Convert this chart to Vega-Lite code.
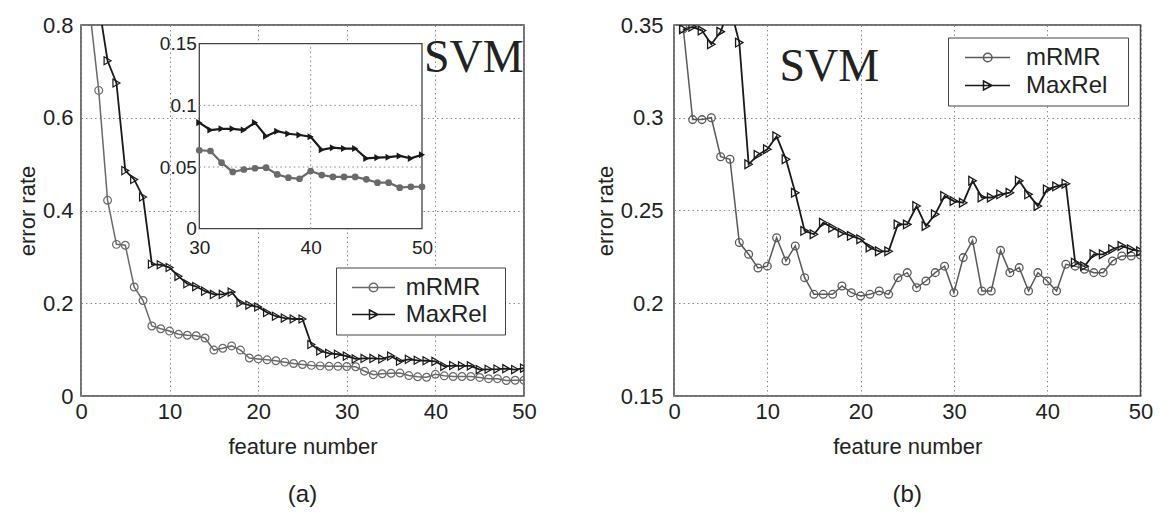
{
  "$schema": "https://vega.github.io/schema/vega-lite/v6.json",
  "background": "white",
  "padding": {"left": 15, "top": 13, "right": 0, "bottom": 0},
  "config": {
    "view": {"stroke": "#444", "strokeWidth": 1.5},
    "font": "Liberation Sans",
    "axis": {"domain": false, "ticks": false, "grid": true, "gridColor": "#8a8a8a", "gridDash": [1.5, 3], "gridWidth": 1,
      "labelFont": "Liberation Sans", "labelFontSize": 22, "labelColor": "#222",
      "titleFont": "Liberation Sans", "titleFontSize": 22, "titleFontWeight": "normal", "titleColor": "#222",
      "labelFlush": false, "labelOverlap": false},
    "title": {"font": "Liberation Sans", "fontSize": 24, "fontWeight": "normal", "color": "#222"}
  },
  "datasets": {
    "a": [
      {"method":"mRMR","n":1,"err":0.83},{"method":"mRMR","n":2,"err":0.659},{"method":"mRMR","n":3,"err":0.422},{"method":"mRMR","n":4,"err":0.327},{"method":"mRMR","n":5,"err":0.325},
      {"method":"mRMR","n":6,"err":0.235},{"method":"mRMR","n":7,"err":0.206},{"method":"mRMR","n":8,"err":0.151},{"method":"mRMR","n":9,"err":0.145},{"method":"mRMR","n":10,"err":0.140},
      {"method":"mRMR","n":11,"err":0.133},{"method":"mRMR","n":12,"err":0.131},{"method":"mRMR","n":13,"err":0.130},{"method":"mRMR","n":14,"err":0.125},{"method":"mRMR","n":15,"err":0.099},
      {"method":"mRMR","n":16,"err":0.103},{"method":"mRMR","n":17,"err":0.108},{"method":"mRMR","n":18,"err":0.099},{"method":"mRMR","n":19,"err":0.082},{"method":"mRMR","n":20,"err":0.080},
      {"method":"mRMR","n":21,"err":0.078},{"method":"mRMR","n":22,"err":0.076},{"method":"mRMR","n":23,"err":0.073},{"method":"mRMR","n":24,"err":0.070},{"method":"mRMR","n":25,"err":0.068},
      {"method":"mRMR","n":26,"err":0.066},{"method":"mRMR","n":27,"err":0.065},{"method":"mRMR","n":28,"err":0.064},{"method":"mRMR","n":29,"err":0.064},{"method":"mRMR","n":30,"err":0.0636},
      {"method":"mRMR","n":31,"err":0.063},{"method":"mRMR","n":32,"err":0.0535},{"method":"mRMR","n":33,"err":0.046},{"method":"mRMR","n":34,"err":0.048},{"method":"mRMR","n":35,"err":0.049},
      {"method":"mRMR","n":36,"err":0.0495},{"method":"mRMR","n":37,"err":0.044},{"method":"mRMR","n":38,"err":0.0414},{"method":"mRMR","n":39,"err":0.0405},{"method":"mRMR","n":40,"err":0.0468},
      {"method":"mRMR","n":41,"err":0.0435},{"method":"mRMR","n":42,"err":0.042},{"method":"mRMR","n":43,"err":0.042},{"method":"mRMR","n":44,"err":0.042},{"method":"mRMR","n":45,"err":0.040},
      {"method":"mRMR","n":46,"err":0.0373},{"method":"mRMR","n":47,"err":0.0373},{"method":"mRMR","n":48,"err":0.0333},{"method":"mRMR","n":49,"err":0.034},{"method":"mRMR","n":50,"err":0.034},
      {"method":"MaxRel","n":1,"err":0.95},{"method":"MaxRel","n":2,"err":0.845},{"method":"MaxRel","n":3,"err":0.723},{"method":"MaxRel","n":4,"err":0.675},{"method":"MaxRel","n":5,"err":0.486},
      {"method":"MaxRel","n":6,"err":0.467},{"method":"MaxRel","n":7,"err":0.429},{"method":"MaxRel","n":8,"err":0.284},{"method":"MaxRel","n":9,"err":0.283},{"method":"MaxRel","n":10,"err":0.277},
      {"method":"MaxRel","n":11,"err":0.258},{"method":"MaxRel","n":12,"err":0.242},{"method":"MaxRel","n":13,"err":0.236},{"method":"MaxRel","n":14,"err":0.226},{"method":"MaxRel","n":15,"err":0.219},
      {"method":"MaxRel","n":16,"err":0.219},{"method":"MaxRel","n":17,"err":0.224},{"method":"MaxRel","n":18,"err":0.201},{"method":"MaxRel","n":19,"err":0.196},{"method":"MaxRel","n":20,"err":0.192},
      {"method":"MaxRel","n":21,"err":0.180},{"method":"MaxRel","n":22,"err":0.172},{"method":"MaxRel","n":23,"err":0.168},{"method":"MaxRel","n":24,"err":0.166},{"method":"MaxRel","n":25,"err":0.166},
      {"method":"MaxRel","n":26,"err":0.111},{"method":"MaxRel","n":27,"err":0.097},{"method":"MaxRel","n":28,"err":0.092},{"method":"MaxRel","n":29,"err":0.090},{"method":"MaxRel","n":30,"err":0.086},
      {"method":"MaxRel","n":31,"err":0.080},{"method":"MaxRel","n":32,"err":0.081},{"method":"MaxRel","n":33,"err":0.081},{"method":"MaxRel","n":34,"err":0.080},{"method":"MaxRel","n":35,"err":0.086},
      {"method":"MaxRel","n":36,"err":0.075},{"method":"MaxRel","n":37,"err":0.079},{"method":"MaxRel","n":38,"err":0.077},{"method":"MaxRel","n":39,"err":0.076},{"method":"MaxRel","n":40,"err":0.0746},
      {"method":"MaxRel","n":41,"err":0.064},{"method":"MaxRel","n":42,"err":0.0657},{"method":"MaxRel","n":43,"err":0.065},{"method":"MaxRel","n":44,"err":0.065},{"method":"MaxRel","n":45,"err":0.057},
      {"method":"MaxRel","n":46,"err":0.0576},{"method":"MaxRel","n":47,"err":0.058},{"method":"MaxRel","n":48,"err":0.059},{"method":"MaxRel","n":49,"err":0.057},{"method":"MaxRel","n":50,"err":0.060}
    ],
    "b": [
      {"method":"mRMR","n":1,"err":0.348},{"method":"mRMR","n":2,"err":0.299},{"method":"mRMR","n":3,"err":0.299},{"method":"mRMR","n":4,"err":0.300},{"method":"mRMR","n":5,"err":0.279},
      {"method":"mRMR","n":6,"err":0.2776},{"method":"mRMR","n":7,"err":0.2327},{"method":"mRMR","n":8,"err":0.2264},{"method":"mRMR","n":9,"err":0.219},{"method":"mRMR","n":10,"err":0.220},
      {"method":"mRMR","n":11,"err":0.2353},{"method":"mRMR","n":12,"err":0.2228},{"method":"mRMR","n":13,"err":0.2309},{"method":"mRMR","n":14,"err":0.2138},{"method":"mRMR","n":15,"err":0.2048},
      {"method":"mRMR","n":16,"err":0.2048},{"method":"mRMR","n":17,"err":0.2048},{"method":"mRMR","n":18,"err":0.2093},{"method":"mRMR","n":19,"err":0.2057},{"method":"mRMR","n":20,"err":0.2039},
      {"method":"mRMR","n":21,"err":0.2048},{"method":"mRMR","n":22,"err":0.2066},{"method":"mRMR","n":23,"err":0.2048},{"method":"mRMR","n":24,"err":0.2138},{"method":"mRMR","n":25,"err":0.2165},
      {"method":"mRMR","n":26,"err":0.2084},{"method":"mRMR","n":27,"err":0.212},{"method":"mRMR","n":28,"err":0.2165},{"method":"mRMR","n":29,"err":0.22},{"method":"mRMR","n":30,"err":0.2057},
      {"method":"mRMR","n":31,"err":0.2246},{"method":"mRMR","n":32,"err":0.2339},{"method":"mRMR","n":33,"err":0.2066},{"method":"mRMR","n":34,"err":0.2066},{"method":"mRMR","n":35,"err":0.2285},
      {"method":"mRMR","n":36,"err":0.2165},{"method":"mRMR","n":37,"err":0.2192},{"method":"mRMR","n":38,"err":0.2066},{"method":"mRMR","n":39,"err":0.2165},{"method":"mRMR","n":40,"err":0.212},
      {"method":"mRMR","n":41,"err":0.2066},{"method":"mRMR","n":42,"err":0.221},{"method":"mRMR","n":43,"err":0.220},{"method":"mRMR","n":44,"err":0.2183},{"method":"mRMR","n":45,"err":0.2165},
      {"method":"mRMR","n":46,"err":0.2165},{"method":"mRMR","n":47,"err":0.2228},{"method":"mRMR","n":48,"err":0.2255},{"method":"mRMR","n":49,"err":0.2255},{"method":"mRMR","n":50,"err":0.226},
      {"method":"MaxRel","n":1,"err":0.3477},{"method":"MaxRel","n":2,"err":0.349},{"method":"MaxRel","n":3,"err":0.347},{"method":"MaxRel","n":4,"err":0.3396},{"method":"MaxRel","n":5,"err":0.3464},
      {"method":"MaxRel","n":6,"err":0.36},{"method":"MaxRel","n":7,"err":0.3405},{"method":"MaxRel","n":8,"err":0.2749},{"method":"MaxRel","n":9,"err":0.280},{"method":"MaxRel","n":10,"err":0.283},
      {"method":"MaxRel","n":11,"err":0.290},{"method":"MaxRel","n":12,"err":0.2776},{"method":"MaxRel","n":13,"err":0.2596},{"method":"MaxRel","n":14,"err":0.239},{"method":"MaxRel","n":15,"err":0.2372},
      {"method":"MaxRel","n":16,"err":0.2434},{"method":"MaxRel","n":17,"err":0.2407},{"method":"MaxRel","n":18,"err":0.238},{"method":"MaxRel","n":19,"err":0.2363},{"method":"MaxRel","n":20,"err":0.2345},
      {"method":"MaxRel","n":21,"err":0.230},{"method":"MaxRel","n":22,"err":0.228},{"method":"MaxRel","n":23,"err":0.228},{"method":"MaxRel","n":24,"err":0.2425},{"method":"MaxRel","n":25,"err":0.2425},
      {"method":"MaxRel","n":26,"err":0.2524},{"method":"MaxRel","n":27,"err":0.2416},{"method":"MaxRel","n":28,"err":0.248},{"method":"MaxRel","n":29,"err":0.2578},{"method":"MaxRel","n":30,"err":0.2551},
      {"method":"MaxRel","n":31,"err":0.2542},{"method":"MaxRel","n":32,"err":0.266},{"method":"MaxRel","n":33,"err":0.257},{"method":"MaxRel","n":34,"err":0.257},{"method":"MaxRel","n":35,"err":0.2587},
      {"method":"MaxRel","n":36,"err":0.2596},{"method":"MaxRel","n":37,"err":0.266},{"method":"MaxRel","n":38,"err":0.2587},{"method":"MaxRel","n":39,"err":0.2524},{"method":"MaxRel","n":40,"err":0.2614},
      {"method":"MaxRel","n":41,"err":0.263},{"method":"MaxRel","n":42,"err":0.2644},{"method":"MaxRel","n":43,"err":0.2219},{"method":"MaxRel","n":44,"err":0.220},{"method":"MaxRel","n":45,"err":0.2264},
      {"method":"MaxRel","n":46,"err":0.2264},{"method":"MaxRel","n":47,"err":0.2291},{"method":"MaxRel","n":48,"err":0.2309},{"method":"MaxRel","n":49,"err":0.2291},{"method":"MaxRel","n":50,"err":0.228}
    ]
  },
  "spacing": 56,
  "resolve": {"scale": {"color": "independent", "shape": "independent"}, "legend": {"shape": "independent", "color": "independent"}},
  "hconcat": [
    {
      "width": 443, "height": 371,
      "title": {"text": "(a)", "orient": "bottom", "offset": 26, "anchor": "middle"},
      "resolve": {"scale": {"x": "independent", "y": "independent"}, "axis": {"x": "independent", "y": "independent"}},
      "layer": [
        {
          "data": {"name": "a"},
          "layer": [
            {"transform": [{"filter": "datum.method === 'mRMR'"}],
             "mark": {"type": "line", "clip": true, "strokeWidth": 1.5, "color": "#6a6a6a"},
             "encoding": {
               "x": {"field": "n", "type": "quantitative", "scale": {"domain": [0, 50], "nice": false, "zero": false},
                 "axis": {"values": [0, 10, 20, 30, 40, 50], "title": "feature number", "labelPadding": 5, "titlePadding": 14}},
               "y": {"field": "err", "type": "quantitative", "scale": {"domain": [0, 0.8], "nice": false, "zero": false},
                 "axis": {"values": [0, 0.2, 0.4, 0.6, 0.8], "format": ".2~f", "title": "error rate", "labelPadding": 8, "titlePadding": 3}}
             }},
            {"transform": [{"filter": "datum.method === 'MaxRel'"}],
             "mark": {"type": "line", "clip": true, "strokeWidth": 1.8, "color": "#1a1a1a"},
             "encoding": {"x": {"field": "n", "type": "quantitative"}, "y": {"field": "err", "type": "quantitative"}}},
            {"transform": [{"filter": "datum.method === 'mRMR'"}],
             "mark": {"type": "point", "clip": true, "shape": "circle", "filled": false, "size": 60, "strokeWidth": 1.2, "color": "#6a6a6a", "opacity": 1},
             "encoding": {"x": {"field": "n", "type": "quantitative"}, "y": {"field": "err", "type": "quantitative"}}},
            {"transform": [{"filter": "datum.method === 'MaxRel'"}],
             "mark": {"type": "point", "clip": true, "shape": "triangle-right", "filled": false, "size": 65, "strokeWidth": 1.2, "color": "#1a1a1a", "opacity": 1},
             "encoding": {"x": {"field": "n", "type": "quantitative"}, "y": {"field": "err", "type": "quantitative"}}},
            {"transform": [{"filter": "false"}],
             "mark": {"type": "point", "filled": false, "strokeWidth": 1.5, "opacity": 1},
             "encoding": {
               "x": {"field": "n", "type": "quantitative"}, "y": {"field": "err", "type": "quantitative"},
               "color": {"field": "method", "type": "nominal", "scale": {"domain": ["mRMR", "MaxRel"], "range": ["#6a6a6a", "#1a1a1a"]},
                 "legend": {"orient": "none", "legendX": 255, "legendY": 242.5, "title": null, "direction": "vertical",
                   "labelFont": "Liberation Sans", "labelFontSize": 24, "labelColor": "#222", "labelOffset": 37.7,
                   "symbolSize": 400, "rowPadding": 3, "padding": 8, "strokeColor": "#444", "fillColor": "white",
                   "symbolStrokeWidth": 1.5, "symbolFillColor": "transparent"}},
               "shape": {"field": "method", "type": "nominal",
                 "scale": {"domain": ["mRMR", "MaxRel"], "range": [
                   "M-1,0M13.8,0M-0.4,0L3.9,0M2.18,0C2.18,0.2375,1.9875,0.43,1.75,0.43C1.5125,0.43,1.32,0.2375,1.32,0C1.32,-0.2375,1.5125,-0.43,1.75,-0.43C1.9875,-0.43,2.18,-0.2375,2.18,0Z",
                   "M-1,0M13.8,0M-0.4,0L3.9,0M1.35,-0.45L2.2,0L1.35,0.45Z"]},
                 "legend": {"orient": "none", "legendX": 255, "legendY": 242.5, "title": null, "direction": "vertical",
                   "labelFont": "Liberation Sans", "labelFontSize": 24, "labelColor": "#222", "labelOffset": 37.7,
                   "symbolSize": 400, "rowPadding": 3, "padding": 8, "strokeColor": "#444", "fillColor": "white",
                   "symbolStrokeWidth": 1.5, "symbolFillColor": "transparent"}}
             }},
            {"data": {"values": [{"label": "SVM"}]},
             "mark": {"type": "text", "font": "Liberation Serif", "fontSize": 46, "align": "left", "baseline": "alphabetic", "color": "#222"},
             "encoding": {"x": {"datum": 38.7, "type": "quantitative"}, "y": {"datum": 0.698, "type": "quantitative"}, "text": {"field": "label"}}}
          ]
        },
        {
          "data": {"name": "a"},
          "layer": [
            {"data": {"values": [{"label": "inset"}]},
             "mark": {"type": "rect", "fill": "white", "stroke": "#444", "strokeWidth": 1.3},
             "encoding": {"x": {"datum": 30, "type": "quantitative"}, "x2": {"datum": 50}, "y": {"datum": 0, "type": "quantitative"}, "y2": {"datum": 0.15}}},
            {"data": {"values": [{"label": "grid"}]},
             "mark": {"type": "rule", "color": "#8a8a8a", "strokeWidth": 1, "strokeDash": [1.5, 3]},
             "encoding": {"x": {"datum": 40, "type": "quantitative"}, "y": {"datum": 0, "type": "quantitative"}, "y2": {"datum": 0.15}}},
            {"data": {"values": [{"label": "grid"}]},
             "mark": {"type": "rule", "color": "#8a8a8a", "strokeWidth": 1, "strokeDash": [1.5, 3]},
             "encoding": {"x": {"datum": 30, "type": "quantitative"}, "x2": {"datum": 50}, "y": {"datum": 0.05, "type": "quantitative"}}},
            {"data": {"values": [{"label": "grid"}]},
             "mark": {"type": "rule", "color": "#8a8a8a", "strokeWidth": 1, "strokeDash": [1.5, 3]},
             "encoding": {"x": {"datum": 30, "type": "quantitative"}, "x2": {"datum": 50}, "y": {"datum": 0.1, "type": "quantitative"}}},
            {"transform": [{"filter": "datum.n >= 30 && datum.method === 'mRMR'"}],
             "mark": {"type": "line", "strokeWidth": 2.2, "color": "#6a6a6a"},
             "encoding": {
               "x": {"field": "n", "type": "quantitative", "scale": {"domain": [30, 50], "range": [118.3, 341], "nice": false, "zero": false},
                 "axis": {"orient": "bottom", "offset": -167.3, "values": [30, 40, 50], "title": null, "grid": false, "labelFontSize": 19, "labelPadding": 10, "zindex": 1}},
               "y": {"field": "err", "type": "quantitative", "scale": {"domain": [0, 0.15], "range": [203.7, 18.7], "nice": false, "zero": false},
                 "axis": {"orient": "left", "offset": -118.3, "values": [0, 0.05, 0.1, 0.15], "format": ".2~f", "title": null, "grid": false, "labelFontSize": 19, "labelPadding": 3, "zindex": 1}}
             }},
            {"transform": [{"filter": "datum.n >= 30 && datum.method === 'MaxRel'"}],
             "mark": {"type": "line", "strokeWidth": 2.2, "color": "#1a1a1a"},
             "encoding": {"x": {"field": "n", "type": "quantitative"}, "y": {"field": "err", "type": "quantitative"}}},
            {"transform": [{"filter": "datum.n >= 30 && datum.method === 'mRMR'"}],
             "mark": {"type": "point", "shape": "circle", "filled": true, "size": 45, "color": "#6a6a6a", "opacity": 1},
             "encoding": {"x": {"field": "n", "type": "quantitative"}, "y": {"field": "err", "type": "quantitative"}}},
            {"transform": [{"filter": "datum.n >= 30 && datum.method === 'MaxRel'"}],
             "mark": {"type": "point", "shape": "triangle-right", "filled": true, "size": 50, "color": "#1a1a1a", "opacity": 1},
             "encoding": {"x": {"field": "n", "type": "quantitative"}, "y": {"field": "err", "type": "quantitative"}}}
          ]
        }
      ]
    },
    {
      "width": 466.5, "height": 371,
      "title": {"text": "(b)", "orient": "bottom", "offset": 26, "anchor": "middle"},
      "data": {"name": "b"},
      "layer": [
        {"transform": [{"filter": "datum.method === 'mRMR'"}],
         "mark": {"type": "line", "clip": true, "strokeWidth": 1.5, "color": "#5a5a5a"},
         "encoding": {
           "x": {"field": "n", "type": "quantitative", "scale": {"domain": [0, 50], "nice": false, "zero": false},
             "axis": {"values": [0, 10, 20, 30, 40, 50], "title": "feature number", "labelPadding": 5, "titlePadding": 14}},
           "y": {"field": "err", "type": "quantitative", "scale": {"domain": [0.15, 0.35], "nice": false, "zero": false},
             "axis": {"values": [0.15, 0.2, 0.25, 0.3, 0.35], "format": ".2~f", "title": "error rate", "labelPadding": 11, "titlePadding": 3}}
         }},
        {"transform": [{"filter": "datum.method === 'MaxRel'"}],
         "mark": {"type": "line", "clip": true, "strokeWidth": 1.8, "color": "#1a1a1a"},
         "encoding": {"x": {"field": "n", "type": "quantitative"}, "y": {"field": "err", "type": "quantitative"}}},
        {"transform": [{"filter": "datum.method === 'mRMR'"}],
         "mark": {"type": "point", "clip": true, "shape": "circle", "filled": false, "size": 60, "strokeWidth": 1.3, "color": "#5a5a5a", "opacity": 1},
         "encoding": {"x": {"field": "n", "type": "quantitative"}, "y": {"field": "err", "type": "quantitative"}}},
        {"transform": [{"filter": "datum.method === 'MaxRel'"}],
         "mark": {"type": "point", "clip": true, "shape": "triangle-right", "filled": false, "size": 75, "strokeWidth": 1.3, "color": "#1a1a1a", "opacity": 1},
         "encoding": {"x": {"field": "n", "type": "quantitative"}, "y": {"field": "err", "type": "quantitative"}}},
        {"transform": [{"filter": "false"}],
         "mark": {"type": "point", "filled": false, "strokeWidth": 1.5, "opacity": 1},
         "encoding": {
           "x": {"field": "n", "type": "quantitative"}, "y": {"field": "err", "type": "quantitative"},
           "color": {"field": "method", "type": "nominal", "scale": {"domain": ["mRMR", "MaxRel"], "range": ["#5a5a5a", "#1a1a1a"]},
             "legend": {"orient": "none", "legendX": 274, "legendY": 12.5, "title": null, "direction": "vertical",
               "labelFont": "Liberation Sans", "labelFontSize": 24, "labelColor": "#222", "labelOffset": 46,
               "symbolSize": 400, "rowPadding": 4, "padding": 8, "strokeColor": "#444", "fillColor": "white",
               "symbolStrokeWidth": 1.5, "symbolFillColor": "transparent"}},
           "shape": {"field": "method", "type": "nominal",
             "scale": {"domain": ["mRMR", "MaxRel"], "range": [
               "M-1,0M14.9,0M-0.3,0L4.2,0M2.4,0C2.4,0.2375,2.2075,0.43,1.97,0.43C1.7325,0.43,1.54,0.2375,1.54,0C1.54,-0.2375,1.7325,-0.43,1.97,-0.43C2.2075,-0.43,2.4,-0.2375,2.4,0Z",
               "M-1,0M14.9,0M-0.3,0L4.2,0M1.55,-0.45L2.4,0L1.55,0.45Z"]},
             "legend": {"orient": "none", "legendX": 274, "legendY": 12.5, "title": null, "direction": "vertical",
               "labelFont": "Liberation Sans", "labelFontSize": 24, "labelColor": "#222", "labelOffset": 46,
               "symbolSize": 400, "rowPadding": 4, "padding": 8, "strokeColor": "#444", "fillColor": "white",
               "symbolStrokeWidth": 1.5, "symbolFillColor": "transparent"}}
         }},
        {"data": {"values": [{"label": "SVM"}]},
         "mark": {"type": "text", "font": "Liberation Serif", "fontSize": 46, "align": "left", "baseline": "alphabetic", "color": "#222"},
         "encoding": {"x": {"datum": 11.3, "type": "quantitative"}, "y": {"datum": 0.3198, "type": "quantitative"}, "text": {"field": "label"}}}
      ]
    }
  ]
}
